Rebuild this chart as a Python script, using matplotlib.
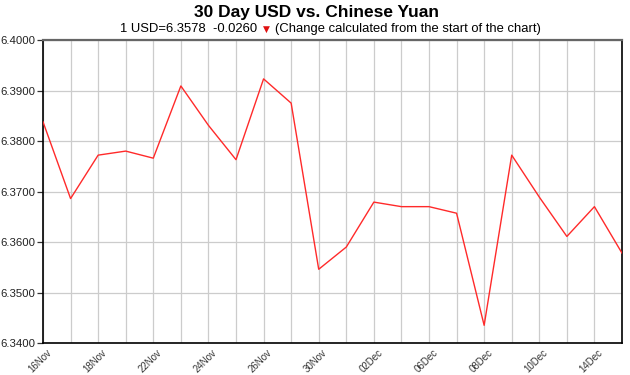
import numpy as np
import matplotlib.pyplot as plt

plt.rcParams['font.family'] = ['Liberation Sans', 'DejaVu Sans']

dates = ['16Nov', '17Nov', '18Nov', '19Nov', '22Nov', '23Nov', '24Nov', '25Nov',
         '26Nov', '29Nov', '30Nov', '01Dec', '02Dec', '03Dec', '06Dec', '07Dec',
         '08Dec', '09Dec', '10Dec', '13Dec', '14Dec', '15Dec']
rates = [6.3838, 6.3686, 6.3772, 6.3780, 6.3766, 6.3909, 6.3831, 6.3763,
         6.3923, 6.3875, 6.3546, 6.3590, 6.3679, 6.3670, 6.3670, 6.3657,
         6.3435, 6.3772, 6.3689, 6.3611, 6.3670, 6.3578]
y_ticks = [6.34, 6.35, 6.36, 6.37, 6.38, 6.39, 6.40]

x = np.arange(len(dates))

fig = plt.figure(figsize=(6.3, 3.75), dpi=100)
ax = fig.add_axes([43 / 630, 1 - 343 / 375, (622 - 43) / 630, (343 - 40) / 375])

ax.plot(x, rates, color='#ff2a2a', lw=1.0, zorder=3)

ax.set_xlim(0, len(dates) - 1)
ax.set_ylim(6.34, 6.40)
ax.set_yticks(y_ticks)
ax.set_yticklabels(['%.4f' % v for v in y_ticks], fontsize=8.2, color='#222222')
ax.set_xticks(x)
ax.set_xticklabels([])

# date labels every other trading day, placed just below-right of the gridline
for i in x[::2]:
    ax.annotate(dates[i], xy=(i, 0), xycoords=ax.get_xaxis_transform(),
                xytext=(7, -8), textcoords='offset pixels',
                rotation=45, rotation_mode='anchor', ha='right', va='center',
                fontsize=7, color='#333333', annotation_clip=False)

ax.grid(True, color='#cccccc', lw=0.9)
ax.tick_params(axis='x', length=0)
ax.tick_params(axis='y', length=4, width=0.9, color='#333333', pad=1.5)

for side in ['left', 'bottom', 'right']:
    ax.spines[side].set_color('black')
    ax.spines[side].set_linewidth(1.2)
ax.spines['top'].set_color('#666666')
ax.spines['top'].set_linewidth(1.6)

fig.text(316 / 630, 1 - 13 / 375, '30 Day USD vs. Chinese Yuan', ha='center', va='center',
         fontsize=12.5, fontweight='bold')
fig.text(257 / 630, 1 - 29 / 375, '1 USD=6.3578  -0.0260', ha='right', va='center',
         fontsize=9.4)
fig.text(266 / 630, 1 - 29.5 / 375, '\u25bc', ha='center', va='center', fontsize=6.5,
         color='#e01010', family='DejaVu Sans')
fig.text(275 / 630, 1 - 29 / 375, '(Change calculated from the start of the chart)',
         ha='left', va='center', fontsize=9.4)

fig.savefig('out.png', dpi=100)
